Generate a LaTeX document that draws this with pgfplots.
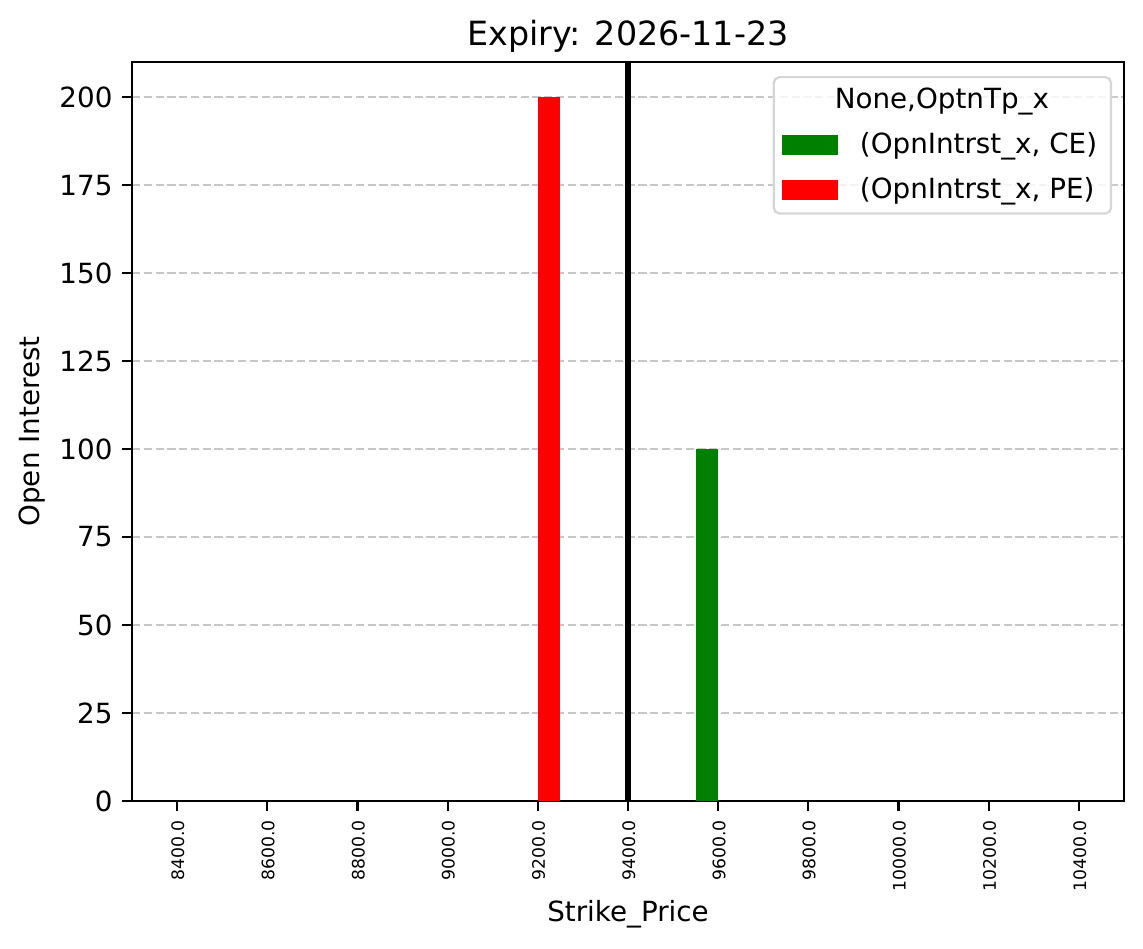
\documentclass[border=0pt]{standalone}
\usepackage{fontspec}
\setmainfont{DejaVu Sans}
\usepackage{pgfplots}
\pgfplotsset{compat=1.18}
\definecolor{mplgreen}{HTML}{008000}
\definecolor{mplred}{HTML}{FF0000}
\definecolor{gridgray}{HTML}{C8C8C8}
\definecolor{legframe}{HTML}{D6D6D6}

\begin{document}
\begin{tikzpicture}
% page size in pt (1 px = 0.36 pt)
\useasboundingbox (-47.52pt,-53.28pt) rectangle (363.96pt,288.36pt);
\begin{axis}[
    at={(0pt,0pt)}, anchor=south west,
    scale only axis,
    width=357.12pt, height=266.04pt,
    xmin=-0.5, xmax=10.5,
    ymin=0, ymax=210,
    xtick={0,1,2,3,4,5,6,7,8,9,10},
    xticklabels={8400.0,8600.0,8800.0,9000.0,9200.0,9400.0,9600.0,9800.0,10000.0,10200.0,10400.0},
    ytick={0,25,50,75,100,125,150,175,200},
    tick align=outside,
    major tick length=3.5pt,
    tick style={black, line width=0.8pt},
    axis line style={line width=0.8pt},
    xtick pos=bottom, ytick pos=left,
    /pgf/number format/assume math mode=true,
    ticklabel style={font=\fontsize{10}{12}\selectfont},
    xticklabel style={rotate=90, anchor=east, yshift=-0.3pt, font=\fontsize{6.2}{7}\selectfont},
    ymajorgrids=true,
    grid style={gridgray, line width=0.8pt, dash pattern=on 2.96pt off 1.28pt},
    title={Expiry: 2026-11-23},
    title style={at={(0.5,1)}, anchor=base, yshift=-0.2pt, font=\fontsize{12}{14}\selectfont},
    xlabel={Strike\_Price},
    xlabel style={at={(0.5,0)}, anchor=center, yshift=-40.7pt, font=\fontsize{10}{12}\selectfont},
    ylabel={Open Interest},
    ylabel style={at={(-0.1008,0.5)}, anchor=center, font=\fontsize{10}{12}\selectfont},
    legend style={at={(0.988,0.981)}, anchor=north east, draw=legframe, line width=0.8pt,
        rounded corners=2pt, fill=white, fill opacity=0.8, text opacity=1,
        font=\fontsize{10}{12}\selectfont, row sep=3pt},
    legend cell align=left,
]
\addlegendimage{empty legend}
\addlegendentry{\hspace*{35.5pt}\makebox[0pt][c]{None,OptnTp\_x}}

% CE bars, shifted left by 0.125
\addplot[ybar, bar width=0.25, bar shift=0pt, fill=mplgreen, draw=none,
    unbounded coords=discard, y filter/.expression={y==0 ? nan : y},
    legend image code/.code={\fill[mplgreen, sharp corners, fill opacity=1] (0pt,-3.5pt) rectangle (20pt,3.5pt);}]
    coordinates {
    (-0.125,0) (0.875,0) (1.875,0) (2.875,0) (3.875,0) (4.875,0)
    (5.875,100) (6.875,0) (7.875,0) (8.875,0) (9.875,0)};
\addlegendentry{\hspace*{6pt}(OpnIntrst\_x, CE)}

% PE bars, shifted right by 0.125
\addplot[ybar, bar width=0.25, bar shift=0pt, fill=mplred, draw=none,
    unbounded coords=discard, y filter/.expression={y==0 ? nan : y},
    legend image code/.code={\fill[mplred, sharp corners, fill opacity=1] (0pt,-3.5pt) rectangle (20pt,3.5pt);}]
    coordinates {
    (0.125,0) (1.125,0) (2.125,0) (3.125,0) (4.125,200) (5.125,0)
    (6.125,0) (7.125,0) (8.125,0) (9.125,0) (10.125,0)};
\addlegendentry{\hspace*{6pt}(OpnIntrst\_x, PE)}

% underlying price line at 9400
\addplot[black, line width=2.5pt, forget plot] coordinates {(5,0) (5,210)};
\end{axis}
\end{tikzpicture}
\end{document}
